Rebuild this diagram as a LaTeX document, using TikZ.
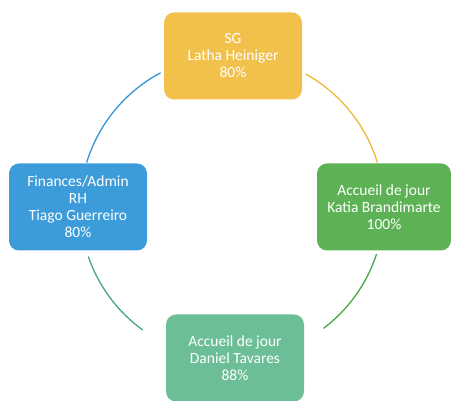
\documentclass[tikz,border=0pt]{standalone}
\usepackage{fontspec}
\setmainfont{Carlito}
\usetikzlibrary{positioning}
\definecolor{sgyellow}{RGB}{242,193,76}
\definecolor{adminblue}{RGB}{60,156,218}
\definecolor{dayjgreen}{RGB}{92,178,84}
\definecolor{dayteal}{RGB}{108,190,150}
\definecolor{arcyellow}{RGB}{238,186,60}
\definecolor{arcblue}{RGB}{52,150,215}
\definecolor{arcgreen}{RGB}{70,168,72}
\definecolor{arcteal}{RGB}{72,168,122}

\begin{document}
\begin{tikzpicture}[x=1pt, y=1pt, every node/.style={font=\fontsize{15.5}{17}\selectfont},
  unit/.style={rectangle, rounded corners=10pt, minimum width=138pt, minimum height=87pt, align=center, text=white, inner sep=2pt},
  ring/.style={line width=1.3pt}]
\useasboundingbox (0,0) rectangle (451,401);
% centre of the cycle
\coordinate (C) at (232,194);
% arcs between the units
\foreach \a/\b/\col in {118/163/arcblue, 61/17/arcyellow, -18/-53/arcgreen, 199/234/arcteal} {
  \draw[ring,\col] ([shift={(\a:152)}]C) arc[start angle=\a, end angle=\b, radius=152];
}
% units
\node[unit, fill=sgyellow] (SG) at (233,345) {SG\\Latha Heiniger\\80\%};
\node[unit, fill=adminblue] (Admin) at (78,194) {Finances/Admin\\RH\\Tiago Guerreiro\\80\%};
\node[unit, fill=dayjgreen, minimum width=134pt] (Katia) at (384,194) {Accueil de jour\\Katia Brandimarte\\100\%};
\node[unit, fill=dayteal] (Daniel) at (235,43) {Accueil de jour\\Daniel Tavares\\88\%};
\end{tikzpicture}
\end{document}
